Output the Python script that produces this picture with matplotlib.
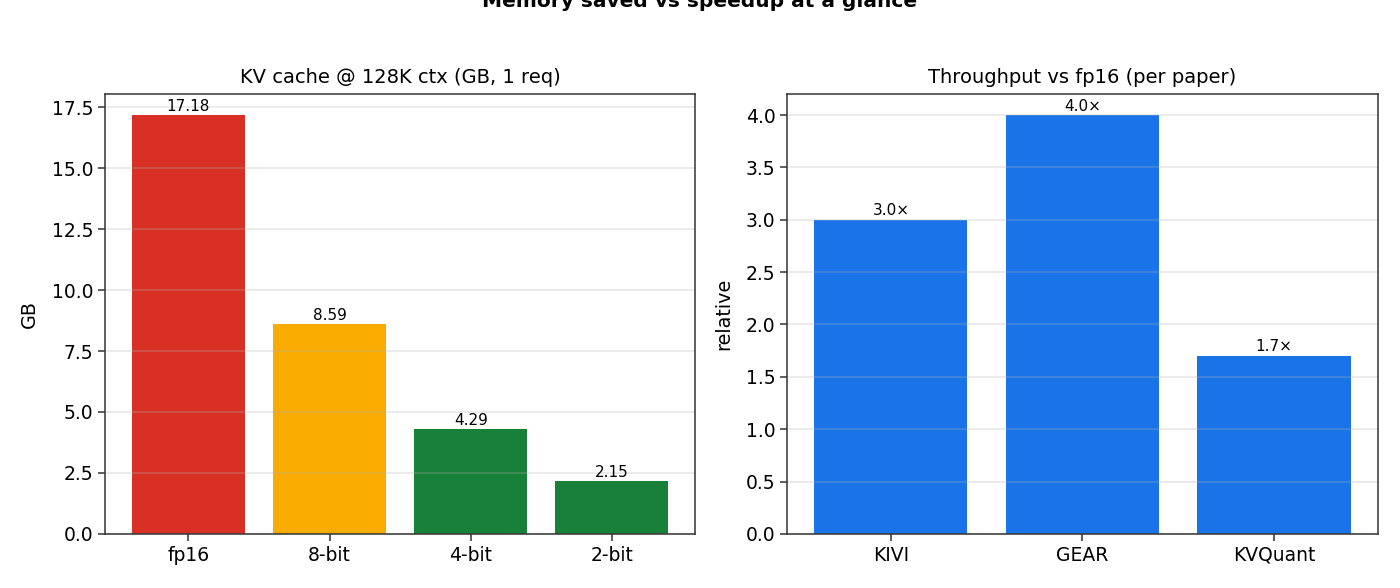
import matplotlib
matplotlib.use("Agg")
import matplotlib.pyplot as plt

plt.rcParams["font.family"] = ["DejaVu Sans"]

# KV cache size at 128K context, single request
precisions = ["fp16", "8-bit", "4-bit", "2-bit"]
kv_gb = [17.18, 8.59, 4.29, 2.15]
kv_colors = ["#d93025", "#f9ab00", "#188038", "#188038"]

# throughput relative to fp16, as reported in each paper
methods = ["KIVI", "GEAR", "KVQuant"]
speedup = [3.0, 4.0, 1.7]

fig, (ax1, ax2) = plt.subplots(1, 2, figsize=(14, 5.88), dpi=100)
fig.subplots_adjust(left=0.075, right=0.984, top=0.840, bottom=0.092, wspace=0.156)

bars = ax1.bar(precisions, kv_gb, color=kv_colors)
ax1.bar_label(bars, labels=[f"{v:.2f}" for v in kv_gb], fontsize=11, padding=1)
ax1.set_title("KV cache @ 128K ctx (GB, 1 req)", fontsize=14, pad=8)
ax1.set_ylabel("GB", fontsize=13.8, labelpad=9)
ax1.set_ylim(0, max(kv_gb) * 1.05)

bars = ax2.bar(methods, speedup, color="#1a73e8")
ax2.bar_label(bars, labels=[f"{v:.1f}\u00d7" for v in speedup], fontsize=11, padding=1)
ax2.set_title("Throughput vs fp16 (per paper)", fontsize=14, pad=8)
ax2.set_ylabel("relative", fontsize=13.8, labelpad=9)
ax2.set_ylim(0, max(speedup) * 1.05)

for ax in (ax1, ax2):
    ax.grid(axis="y", alpha=0.3, linewidth=1.2)
    ax.tick_params(labelsize=13.5, color="#333333", width=1.1, length=5)
    for sp in ax.spines.values():
        sp.set_color("#333333")
        sp.set_linewidth(1.1)

fig.suptitle("Memory saved vs speedup at a glance", fontsize=14.5, fontweight="bold",
             y=0.988, va="baseline")

fig.savefig("out.png", dpi=100)
